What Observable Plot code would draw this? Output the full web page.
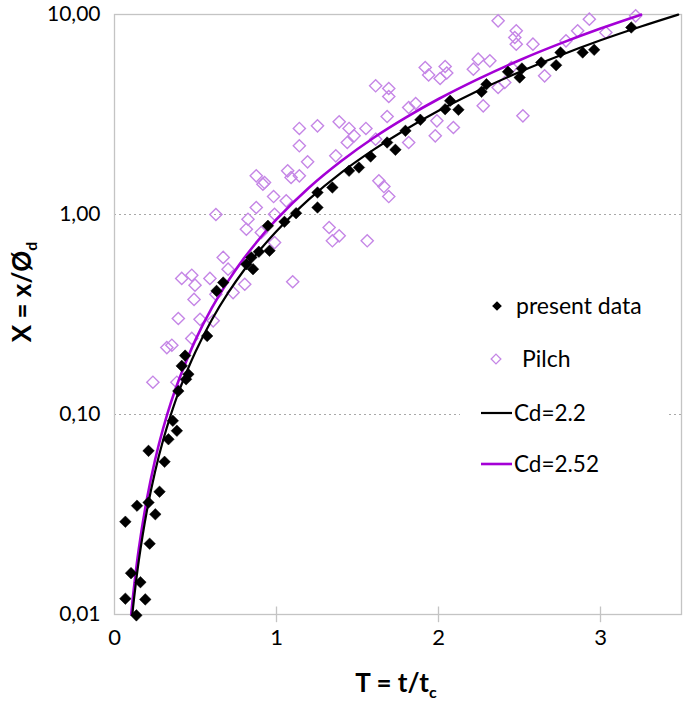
<!DOCTYPE html>
<html>
<head>
<meta charset="utf-8">
<script src="https://cdn.jsdelivr.net/npm/d3@7"></script>
<script src="https://cdn.jsdelivr.net/npm/@observablehq/plot@0.6"></script>
<style>
  html, body { margin: 0; padding: 0; background: #fff; }
  #wrap { position: relative; width: 685px; height: 701px; font-family: Lato, "Open Sans", sans-serif; }
  #legend { position: absolute; left: 460px; top: 283px; width: 208px; height: 206px; background: #fff; }
  #legend svg { position: absolute; left: 0; top: 0; }
</style>
</head>
<body>
<div id="wrap"></div>
<script>
// ---- data ----
const presT = [0.135,0.067,0.190,0.102,0.160,0.217,0.067,0.139,0.210,0.252,0.278,0.309,0.210,0.333,0.385,0.360,0.394,0.442,0.456,0.415,0.436,0.572,0.630,0.671,0.814,0.855,0.845,0.891,0.957,0.947,1.049,1.121,1.253,1.253,1.345,1.448,1.509,1.581,1.683,1.734,1.796,1.888,2.041,2.072,2.123,2.266,2.296,2.429,2.501,2.515,2.634,2.726,2.753,2.890,2.961,3.190];
const presX = [0.0099,0.0120,0.0119,0.0161,0.0145,0.0226,0.0291,0.0350,0.0363,0.0317,0.0411,0.0580,0.0658,0.0752,0.0829,0.0930,0.131,0.150,0.159,0.175,0.197,0.247,0.415,0.457,0.564,0.533,0.610,0.651,0.659,0.878,0.919,1.015,1.084,1.288,1.365,1.654,1.718,1.950,2.291,2.106,2.621,2.975,3.362,3.702,3.338,4.107,4.482,5.170,4.842,5.370,5.754,5.578,6.457,6.457,6.661,8.610];

const pilchT = [0.237,0.385,0.323,0.354,0.477,0.394,0.528,0.609,0.491,0.415,0.477,0.497,0.589,0.626,0.671,0.701,0.804,0.732,0.626,0.814,0.824,0.875,0.906,0.988,0.988,0.916,0.982,1.060,1.100,1.325,1.387,1.345,1.560,0.875,0.926,1.069,1.090,1.141,1.141,1.253,1.141,1.192,1.387,1.448,1.479,1.437,1.552,1.366,1.612,1.612,1.693,1.693,1.683,1.632,1.663,1.693,1.816,1.859,1.918,1.939,2.041,2.051,2.010,1.816,1.990,1.980,2.092,2.245,2.317,2.215,2.450,2.409,2.368,2.655,2.276,2.521,2.368,2.480,2.471,2.480,2.583,2.859,2.931,3.033,3.217,2.787];
const pilchX = [0.145,0.145,0.216,0.222,0.240,0.302,0.299,0.294,0.376,0.479,0.497,0.443,0.479,0.399,0.610,0.533,0.448,0.407,1.00,0.844,0.947,1.084,0.813,1.003,0.724,1.418,1.230,1.171,0.461,0.861,0.782,0.739,0.739,1.561,1.445,1.654,1.531,1.561,2.692,2.777,2.206,1.834,2.908,2.692,2.475,2.291,2.692,1.966,2.379,4.402,4.266,3.890,3.090,1.474,1.380,1.230,3.428,3.589,5.433,4.984,5.495,5.100,4.786,2.291,2.941,2.475,2.723,5.977,5.868,5.328,5.433,4.571,4.315,4.937,3.496,3.115,9.300,8.289,7.674,7.105,7.105,8.289,9.474,8.128,9.851,7.387];

const cd22T = [0.11,0.12,0.15,0.2,0.25,0.3,0.35,0.4,0.5,0.6,0.7,0.8,0.9,1.0,1.2,1.4,1.6,1.8,2.0,2.25,2.5,2.75,3.0,3.25,3.48];
const cd22X = [0.00998,0.0119,0.0186,0.0330,0.0516,0.0743,0.101,0.132,0.206,0.297,0.404,0.528,0.668,0.825,1.19,1.62,2.11,2.67,3.30,4.18,5.16,6.24,7.43,8.71,9.99];
const cd252T = [0.103,0.12,0.15,0.2,0.25,0.3,0.35,0.4,0.5,0.6,0.7,0.8,0.9,1.0,1.2,1.4,1.6,1.8,2.0,2.25,2.5,2.75,3.0,3.25];
const cd252X = [0.0100,0.0136,0.0213,0.0378,0.0591,0.0851,0.116,0.151,0.236,0.340,0.463,0.605,0.765,0.945,1.36,1.85,2.42,3.06,3.78,4.78,5.91,7.15,8.51,9.98];

const xTicks = [0, 1, 2, 3];
const yTicks = [0.01, 0.1, 1, 10];
const gridY = [0.1, 1];
const seriesNames = ["present data", "Pilch", "Cd=2.2", "Cd=2.52"];

// ---- tables ----
const pres = presT.map((t, i) => ({T: t, X: presX[i]}));
const pilch = pilchT.map((t, i) => ({T: t, X: pilchX[i]}));
const c1 = cd22T.map((t, i) => ({T: t, X: cd22X[i]}));
const c2 = cd252T.map((t, i) => ({T: t, X: cd252X[i]}));

const magenta = "#a400d6";
const lilac = "#c586e6";
const FONT = "Lato, 'Open Sans', sans-serif";
const fmt = d => d.toFixed(2).replace(".", ",");

const chart = Plot.plot({
  width: 685,
  height: 701,
  marginLeft: 114,
  marginRight: 4,
  marginTop: 14,
  marginBottom: 87,
  style: {fontFamily: FONT, fontSize: "22px", color: "#000", background: "#fff", overflow: "visible"},
  x: {domain: [0, 3.5]},
  y: {type: "log", domain: [0.01, 10]},
  marks: [
    Plot.ruleY(gridY, {stroke: "#a8a8a8", strokeWidth: 1.2, strokeDasharray: "2,3"}),
    Plot.frame({stroke: "#c4c4c4", strokeWidth: 1.3}),
    Plot.ruleX(xTicks.slice(1), {y1: 0.0091, y2: 0.0109, stroke: "#c4c4c4", strokeWidth: 1.3, clip: false}),
    Plot.axisY({ticks: yTicks, tickFormat: fmt, tickSize: 0, tickPadding: 14, fontSize: 21, label: null}),
    Plot.axisX({ticks: xTicks, tickFormat: d => String(d), tickSize: 0, tickPadding: 15, fontSize: 22, label: null}),
    Plot.dot(pilch, {x: "T", y: "X", symbol: "diamond2", r: 5.5, stroke: lilac, strokeWidth: 1.4, fill: "none"}),
    Plot.line(c2, {x: "T", y: "X", stroke: magenta, strokeWidth: 2.6, curve: "catmull-rom"}),
    Plot.line(c1, {x: "T", y: "X", stroke: "#000", strokeWidth: 2.2, curve: "catmull-rom"}),
    Plot.dot(pres, {x: "T", y: "X", symbol: "diamond2", r: 5.2, fill: "#000", stroke: "#000", strokeWidth: 0.5})
  ]
});

const wrap = document.getElementById("wrap");
wrap.appendChild(chart);

// axis titles
const s = d3.select(chart);
const yl = s.append("text")
  .attr("transform", "translate(31,292) rotate(-90)")
  .attr("text-anchor", "middle")
  .attr("font-weight", "bold")
  .attr("font-size", 26)
  .attr("font-family", FONT);
yl.append("tspan").text("X = x/Ø");
yl.append("tspan").attr("font-size", 16).attr("dy", 6).text("d");

const xl = s.append("text")
  .attr("x", 396).attr("y", 692)
  .attr("text-anchor", "middle")
  .attr("font-weight", "bold")
  .attr("font-size", 26)
  .attr("font-family", FONT);
xl.append("tspan").text("T = t/t");
xl.append("tspan").attr("font-size", 16).attr("dy", 6).text("c");

// legend
const leg = document.createElement("div");
leg.id = "legend";
wrap.appendChild(leg);
const ls = d3.select(leg).append("svg").attr("width", 208).attr("height", 206)
  .style("font-family", FONT);
const rowY = [23, 76, 130, 181];
// present data
ls.append("path").attr("d", d3.symbol(d3.symbolDiamond2, 60)()).attr("transform", `translate(37,${rowY[0]})`).attr("fill", "#000");
ls.append("text").attr("x", 56).attr("y", rowY[0] + 8).attr("font-size", 23).text(seriesNames[0]);
// Pilch
ls.append("path").attr("d", d3.symbol(d3.symbolDiamond2, 60)()).attr("transform", `translate(36,${rowY[1]})`).attr("fill", "none").attr("stroke", lilac).attr("stroke-width", 1.3);
ls.append("text").attr("x", 62).attr("y", rowY[1] + 8).attr("font-size", 23).text(seriesNames[1]);
// Cd=2.2
ls.append("line").attr("x1", 21).attr("x2", 52).attr("y1", rowY[2]).attr("y2", rowY[2]).attr("stroke", "#000").attr("stroke-width", 2.2);
ls.append("text").attr("x", 54).attr("y", rowY[2] + 8).attr("font-size", 22.5).text(seriesNames[2]);
// Cd=2.52
ls.append("line").attr("x1", 21).attr("x2", 52).attr("y1", rowY[3]).attr("y2", rowY[3]).attr("stroke", magenta).attr("stroke-width", 2.6);
ls.append("text").attr("x", 54).attr("y", rowY[3] + 8).attr("font-size", 22.5).text(seriesNames[3]);
</script>
</body>
</html>
